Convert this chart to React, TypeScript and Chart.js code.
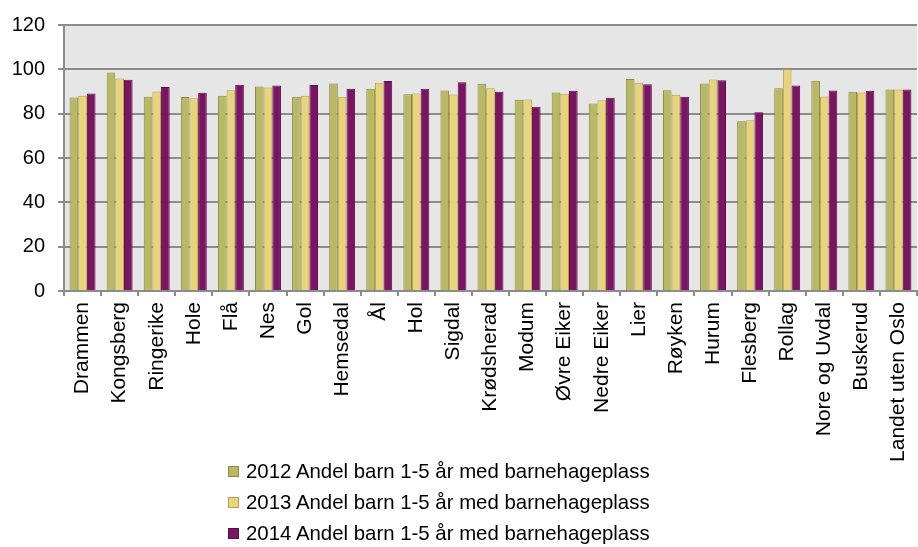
import React, { useEffect, useRef } from "react";
import { Chart, registerables } from "chart.js";

Chart.register(...registerables);

const categories = [
  "Drammen", "Kongsberg", "Ringerike", "Hole", "Flå", "Nes", "Gol", "Hemsedal", "Ål", "Hol",
  "Sigdal", "Krødsherad", "Modum", "Øvre Eiker", "Nedre Eiker", "Lier", "Røyken", "Hurum",
  "Flesberg", "Rollag", "Nore og Uvdal", "Buskerud", "Landet uten Oslo",
];

const series2012 = [87.3, 98.6, 87.6, 87.5, 88.1, 92.3, 87.6, 93.6, 91.2, 88.8, 90.5, 93.5, 86.3, 89.6, 84.6, 95.6, 90.6, 93.6, 76.6, 91.5, 94.8, 89.9, 90.9];
const series2013 = [88.1, 95.9, 90.0, 86.9, 90.6, 91.8, 88.1, 87.6, 93.9, 89.1, 88.7, 91.5, 86.4, 89.0, 86.1, 93.9, 88.5, 95.4, 77.0, 100.0, 87.8, 89.6, 90.9];
const series2014 = [89.1, 95.3, 92.0, 89.4, 93.0, 92.7, 92.9, 91.2, 94.7, 91.2, 94.2, 89.9, 83.1, 90.3, 87.2, 93.3, 87.6, 95.1, 80.6, 92.7, 90.5, 90.3, 90.9];

const seriesLabels = [
  "2012 Andel barn 1-5 år med barnehageplass",
  "2013 Andel barn 1-5 år med barnehageplass",
  "2014 Andel barn 1-5 år med barnehageplass",
];

const yTicks = [0, 20, 40, 60, 80, 100, 120];

const fills = ["#B9B965", "#E8D47A", "#7B1463"];
const borders = ["#8A8A40", "#B8A04E", "#5A0C47"];

const FONT = "'Liberation Sans', Arial, sans-serif";
const GRID = "#8C8C8C";

const plotBg = {
  id: "plotBg",
  beforeDraw(chart: any) {
    const { ctx, chartArea } = chart;
    if (!chartArea) return;
    ctx.save();
    ctx.fillStyle = "#E6E6E6";
    ctx.fillRect(chartArea.left, chartArea.top, chartArea.right - chartArea.left, chartArea.bottom - chartArea.top);
    ctx.restore();
  },
};

export default function App() {
  const ref = useRef<HTMLCanvasElement | null>(null);

  useEffect(() => {
    if (!ref.current) return;
    const values = [series2012, series2013, series2014];
    const chart = new Chart(ref.current, {
      type: "bar",
      data: {
        labels: categories,
        datasets: values.map((v, i) => ({
          label: seriesLabels[i],
          data: v,
          backgroundColor: fills[i],
          borderColor: borders[i],
          borderWidth: 1,
          barPercentage: 1,
          categoryPercentage: 0.7,
        })),
      },
      options: {
        animation: false,
        responsive: true,
        maintainAspectRatio: false,
        layout: { padding: { top: 24, right: 1, bottom: 81, left: 0 } },
        plugins: {
          legend: { display: false },
          tooltip: { enabled: false },
        },
        scales: {
          x: {
            offset: true,
            grid: {
              offset: true,
              drawOnChartArea: false,
              drawTicks: true,
              tickLength: 5,
              color: GRID,
              lineWidth: 2,
            },
            border: { display: true, color: GRID, width: 2 },
            ticks: {
              autoSkip: false,
              minRotation: 90,
              maxRotation: 90,
              padding: 6,
              color: "#000",
              font: { family: FONT, size: 21 },
            },
            afterFit(scale: any) {
              scale.height = 175;
              scale.paddingRight = 0;
              scale.paddingLeft = 0;
            },
          },
          y: {
            min: 0,
            max: 120,
            afterBuildTicks(scale: any) {
              scale.ticks = yTicks.map((v) => ({ value: v }));
            },
            grid: {
              drawOnChartArea: true,
              drawTicks: true,
              tickLength: 6,
              color: GRID,
              lineWidth: 2,
            },
            border: { display: true, color: GRID, width: 2 },
            ticks: {
              padding: 13,
              color: "#000",
              font: { family: FONT, size: 20 },
            },
            afterFit(scale: any) {
              scale.width = 64;
            },
          },
        },
      },
      plugins: [plotBg],
    });
    return () => chart.destroy();
  }, []);

  const rowTops = [459, 490, 521];

  return (
    <div style={{ position: "absolute", left: 0, top: 0, width: 918, height: 547, background: "#fff", overflow: "hidden" }}>
      <div style={{ position: "absolute", left: 0, top: 0, width: 918, height: 547 }}>
        <canvas ref={ref} />
      </div>
      {seriesLabels.map((lab, i) => (
        <div
          key={lab}
          style={{
            position: "absolute",
            left: 228,
            top: rowTops[i],
            height: 24,
            display: "flex",
            alignItems: "center",
            fontFamily: FONT,
            fontSize: 20.4,
            color: "#000",
            whiteSpace: "nowrap",
          }}
        >
          <span
            style={{
              display: "inline-block",
              width: 9,
              height: 9,
              background: fills[i],
              border: `1px solid ${borders[i]}`,
              marginRight: 7,
            }}
          />
          <span>{lab}</span>
        </div>
      ))}
    </div>
  );
}
